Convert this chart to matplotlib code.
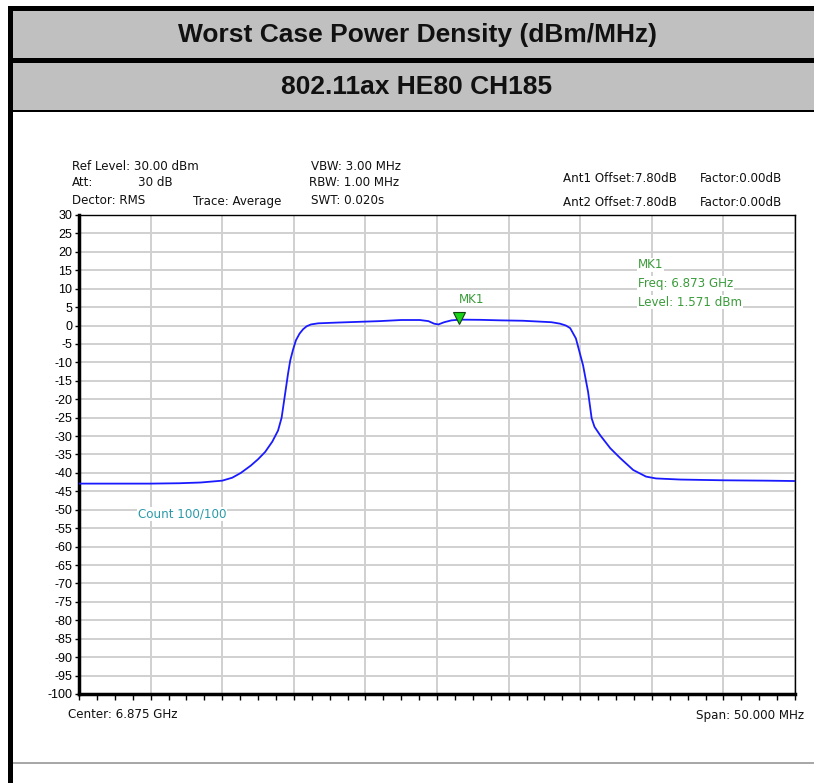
import matplotlib
matplotlib.use("Agg")
import matplotlib.pyplot as plt
from matplotlib.patches import Rectangle
from matplotlib.ticker import MultipleLocator, NullFormatter

plt.rcParams["axes.unicode_minus"] = False

# ---------------- data ----------------
title_main = "Worst Case Power Density (dBm/MHz)"
title_sub = "802.11ax HE80 CH185"

freq_offset_mhz = [-25, -20, -18, -16.5, -15, -14.3, -13.7, -13.0, -12.5, -12.0,
                   -11.5, -11.1, -10.85, -10.7, -10.55, -10.4, -10.25, -10.05,
                   -9.85, -9.6, -9.35, -9.1, -8.8, -8.3, -7.0, -5.5, -4.0, -2.5,
                   -1.2, -0.6, -0.2, 0.1, 0.5, 1.0, 1.6, 3.0, 4.5, 6.0, 7.0, 8.0,
                   8.6, 9.0, 9.3, 9.7, 10.2, 10.55, 10.8, 11.0, 11.4, 12.1, 12.8,
                   13.7, 14.6, 15.3, 17.0, 20.0, 23.0, 25.0]
level_dbm = [-42.9, -42.9, -42.8, -42.6, -42.1, -41.3, -40.0, -38.0, -36.3, -34.3,
             -31.5, -28.5, -25.0, -21.0, -17.0, -13.0, -9.5, -6.5,
             -4.0, -2.2, -1.0, -0.2, 0.3, 0.6, 0.8, 1.0, 1.2, 1.5,
             1.5, 1.2, 0.5, 0.3, 0.9, 1.4, 1.6, 1.55, 1.4, 1.3, 1.1, 0.9,
             0.5, 0.0, -0.7, -3.5, -10.8, -18.0, -25.2, -27.5, -29.8, -33.3, -36.0,
             -39.2, -41.0, -41.5, -41.8, -42.0, -42.1, -42.2]

marker_freq = 1.52
marker_level = 1.571

y_ticks = list(range(-100, 31, 5))
x_ticks = list(range(-25, 26, 5))

info_left = [("Ref Level: 30.00 dBm", 72, 166), ("Att:", 72, 183), ("30 dB", 138, 183),
             ("Dector: RMS", 72, 201), ("Trace: Average", 193, 201)]
info_mid = [("VBW: 3.00 MHz", 311, 166), ("RBW: 1.00 MHz", 309, 183), ("SWT: 0.020s", 311, 201)]
info_right = [("Ant1 Offset:7.80dB", 563, 178), ("Factor:0.00dB", 700, 178),
              ("Ant2 Offset:7.80dB", 563, 202), ("Factor:0.00dB", 700, 202)]
mk_lines = ["MK1", "Freq: 6.873 GHz", "Level: 1.571 dBm"]

# ---------------- figure ----------------
W, H = 814, 783
fig = plt.figure(figsize=(W / 100, H / 100), dpi=100)
fig.patch.set_facecolor("white")

def fx(px):
    return px / W

def fy(py):
    return 1 - py / H

def frect(x0, y0, x1, y1, color, z=0):
    fig.patches.append(Rectangle((fx(x0), fy(y1)), fx(x1) - fx(x0), fy(y0) - fy(y1),
                                 transform=fig.transFigure, facecolor=color,
                                 edgecolor="none", zorder=z))

# header bands and borders
frect(8, 6, W, 11, "black")
frect(13, 11, W, 58, "#c0c0c0")
frect(13, 58, W, 63, "black")
frect(13, 63, W, 110, "#c0c0c0")
frect(13, 110, W, 112, "black")
frect(8, 6, 13, H, "black")
frect(13, 762, W, 763.5, "#a8a8a8")

fig.text(fx(417), fy(35), title_main, ha="center", va="center",
         family="Liberation Sans", weight="bold", fontsize=19, color="#111111")
fig.text(fx(417), fy(87), title_sub, ha="center", va="center",
         family="Liberation Sans", weight="bold", fontsize=19, color="#111111")

FS = 8.6
small = dict(family="DejaVu Sans", fontsize=FS, color="#111111", va="center", ha="left")
for txt, x, y in info_left + info_mid + info_right:
    fig.text(fx(x), fy(y), txt, **small)

# ---------------- axes ----------------
x0, x1, yt, yb = 79, 795, 215, 694
ax = fig.add_axes([fx(x0), fy(yb), fx(x1) - fx(x0), fy(yt) - fy(yb)])
ax.set_xlim(-25, 25)
ax.set_ylim(-100, 30)
ax.set_yticks(y_ticks)
ax.set_xticks(x_ticks)
ax.xaxis.set_minor_locator(MultipleLocator(1.25))
ax.xaxis.set_major_formatter(NullFormatter())
ax.grid(True, which="major", color="#d0d0d0", linewidth=1.4)
ax.set_axisbelow(True)
ax.tick_params(axis="y", length=3, width=1, pad=2, labelsize=9, direction="out")
ax.tick_params(axis="x", which="both", length=4, width=1, direction="out")
for lab in ax.get_yticklabels():
    lab.set_family("Liberation Sans")
for s in ["top", "right"]:
    ax.spines[s].set_linewidth(1.0)
for s in ["left", "bottom"]:
    ax.spines[s].set_linewidth(2.5)

ax.plot(freq_offset_mhz, level_dbm, color="#1a1aff", linewidth=1.3, zorder=3)
ax.plot([marker_freq], [marker_level + 0.4], marker="v", markersize=8,
        markerfacecolor="#19d219", markeredgecolor="#114411", markeredgewidth=0.8,
        linestyle="none", zorder=4)
ax.text(marker_freq, marker_level + 5.6, "MK1", color="#3c9c3c", fontsize=FS,
        family="DejaVu Sans", ha="left", va="center",
        bbox=dict(facecolor="white", edgecolor="none", pad=0.5), zorder=5)

mk_green = "#3c9c3c"
for i, txt in enumerate(mk_lines):
    fig.text(fx(638), fy(265 + 18.5 * i), txt, color=mk_green, fontsize=FS,
             family="DejaVu Sans", ha="left", va="center",
             bbox=dict(facecolor="white", edgecolor="none", pad=0.6), zorder=5)

fig.text(fx(138), fy(514), "Count 100/100", color="#2a9aa8", fontsize=FS,
         family="DejaVu Sans", ha="left", va="center",
         bbox=dict(facecolor="white", edgecolor="none", pad=0.6), zorder=5)

fig.text(fx(68), fy(715), "Center: 6.875 GHz", **small)
fig.text(fx(804), fy(715), "Span: 50.000 MHz", **{**small, "ha": "right"})

fig.savefig("out.png", dpi=100, facecolor="white")
